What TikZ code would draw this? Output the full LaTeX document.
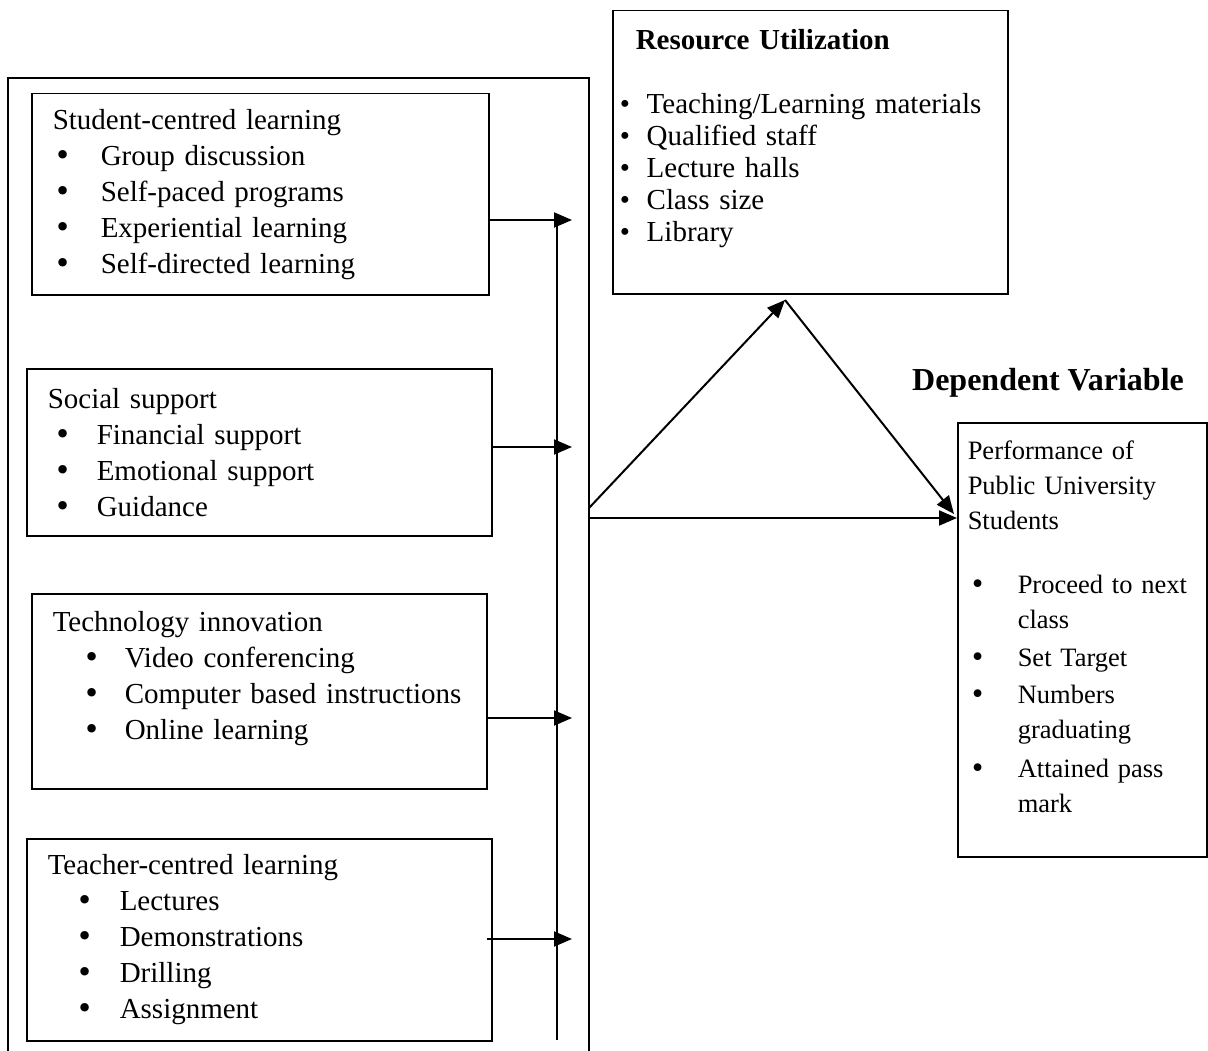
\documentclass[tikz,border=0pt]{standalone}
\usepackage{fontspec}
\setmainfont{Liberation Serif}
\newfontfamily\dotfont{DejaVu Sans}
\usetikzlibrary{arrows.meta,positioning}

\newcommand{\bigdot}{{\dotfont\textbullet}}
\newcommand{\itemline}[3]{\hspace*{#1}\makebox[#2][l]{\bigdot}#3}
\newcommand{\resline}[1]{\makebox[27pt][l]{\textbullet}#1}

\tikzset{
  varbox/.style={draw, line width=1.5pt, rectangle, anchor=north west, align=left,
    inner xsep=21pt, inner ysep=0pt, font=\fontsize{29}{36}\selectfont},
  link/.style={line width=2pt, -{Triangle[length=18pt,width=15pt]}},
}

\begin{document}
\begin{tikzpicture}[x=1pt,y=-1pt]
  \useasboundingbox (0,0) rectangle (1208,1051);

  \draw[line width=1.5pt] (8,1051) |- (589,78) -- (589,1051);

  \node[varbox, text width=415pt, minimum height=201pt] (student) at (31,93)
    {Student-centred learning\\
     \itemline{2pt}{46pt}{Group discussion}\\
     \itemline{2pt}{46pt}{Self-paced programs}\\
     \itemline{2pt}{46pt}{Experiential learning}\\
     \itemline{2pt}{46pt}{Self-directed learning}};
  \node[varbox, text width=423pt, minimum height=167pt] (social) at (26,368)
    {Social support\\
     \itemline{7pt}{42pt}{Financial support}\\
     \itemline{7pt}{42pt}{Emotional support}\\
     \itemline{7pt}{42pt}{Guidance}};
  \node[varbox, text width=413pt, minimum height=195pt] (tech) at (31,593)
    {Technology innovation\\
     \itemline{31pt}{41pt}{Video conferencing}\\
     \itemline{31pt}{41pt}{Computer based instructions}\\
     \itemline{31pt}{41pt}{Online learning}\\[-5pt]\mbox{}};
  \node[varbox, text width=423pt, minimum height=202pt] (teacher) at (26,838)
    {Teacher-centred learning\\
     \itemline{29pt}{43pt}{Lectures}\\
     \itemline{29pt}{43pt}{Demonstrations}\\
     \itemline{29pt}{43pt}{Drilling}\\
     \itemline{29pt}{43pt}{Assignment}};

  \node[varbox, inner xsep=7pt, text width=381pt, minimum height=283pt,
    font=\fontsize{29}{32}\selectfont] (resource) at (612,10)
    {\hspace*{16pt}\textbf{Resource Utilization}\\[32pt]
     \resline{Teaching/Learning materials}\\
     \resline{Qualified staff}\\
     \resline{Lecture halls}\\
     \resline{Class size}\\
     \resline{Library}\\[2pt]\mbox{}};

  \node[font=\fontsize{32}{38}\selectfont\bfseries] (depvar) at (1048,383) {Dependent Variable};

  \node[varbox, inner xsep=10pt, text width=229pt, minimum height=434pt,
    font=\fontsize{26.5}{35}\selectfont] (perf) at (957,422)
    {Performance of\\
     Public University\\
     Students\\[29pt]
     \itemline{2pt}{48pt}{Proceed to next}\\
     \hspace*{50pt}class\\[3pt]
     \itemline{2pt}{48pt}{Set Target}\\[2pt]
     \itemline{2pt}{48pt}{Numbers}\\
     \hspace*{50pt}graduating\\[4pt]
     \itemline{2pt}{48pt}{Attained pass}\\
     \hspace*{50pt}mark\\[-8pt]\mbox{}};

  \coordinate (t1) at (572,220);
  \coordinate (t2) at (572,447);
  \coordinate (t3) at (572,718);
  \coordinate (t4) at (572,939);
  \coordinate (bustop) at (557,226);
  \coordinate (busbot) at (557,1040);
  \coordinate (src) at (589,518);
  \coordinate (src2) at (589,508);
  \coordinate (apex) at (785,300);
  \coordinate (hit) at (954,514);

  \draw[line width=1.5pt] (bustop) -- (busbot);
  \draw[link] (student.east |- t1) -- (t1);
  \draw[link] (social.east |- t2) -- (t2);
  \draw[link] (tech.east |- t3) -- (t3);
  \draw[link] ([xshift=-6pt]teacher.east |- t4) -- (t4);

  \draw[link] (src) -- (src -| perf.west);
  \draw[link] (src2) -- (apex);
  \draw[link] (apex) -- (hit);
\end{tikzpicture}
\end{document}
